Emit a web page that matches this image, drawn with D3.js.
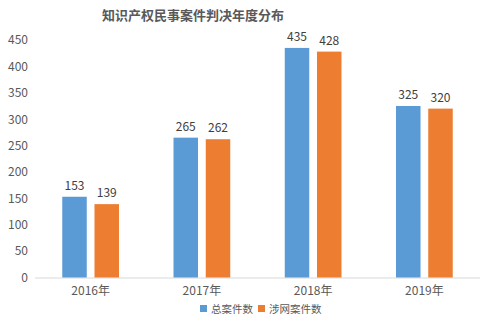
<!DOCTYPE html>
<html><head><meta charset="utf-8">
<script src="https://cdn.jsdelivr.net/npm/d3@7"></script>
<style>body{margin:0;background:#fff}svg{display:block}</style>
</head><body>
<script>
const title = "知识产权民事案件判决年度分布";
const categories = ["2016年","2017年","2018年","2019年"];
const seriesNames = ["总案件数","涉网案件数"];
const totalCases = [153,265,435,325];
const netCases = [139,262,428,320];
const yTicks = [0,50,100,150,200,250,300,350,400,450];
const colors = ["#5B9BD5","#ED7D31"];

const W=499,H=322;
const font = "'Noto Sans CJK SC','Microsoft YaHei',sans-serif";
const svg = d3.select("body").append("svg").attr("width",W).attr("height",H);
const x0 = d3.scaleBand().domain(categories).range([35,480]).paddingInner(0.49).paddingOuter(0.245);
const x1 = d3.scaleBand().domain(seriesNames).range([0,x0.bandwidth()]).paddingInner(0.24);
const y = d3.scaleLinear().domain([0,450]).range([277.5,40]);

svg.append("text").attr("x",193).attr("y",20).attr("text-anchor","middle")
  .attr("font-family",font).attr("font-size",13).attr("font-weight","bold").attr("fill","#595959").text(title);

const yAxis = svg.append("g").attr("transform","translate(28,0)")
  .call(d3.axisLeft(y).tickValues(yTicks).tickSize(0).tickPadding(0));
yAxis.select(".domain").remove();
yAxis.selectAll("text").attr("font-family",font).attr("font-size",12).attr("fill","#595959");

const xAxis = svg.append("g").attr("transform","translate(0,277.5)")
  .call(d3.axisBottom(x0).tickSize(0).tickPadding(9));
xAxis.select(".domain").attr("stroke","#D9D9D9").attr("d","M35,0.5H480");
xAxis.selectAll("text").attr("font-family",font).attr("font-size",12).attr("fill","#595959");

const series = [totalCases, netCases];
categories.forEach((c,i)=>{
  seriesNames.forEach((s,j)=>{
    const v = series[j][i];
    const bx = x0(c)+x1(s);
    svg.append("rect").attr("x",bx).attr("y",y(v)).attr("width",x1.bandwidth())
      .attr("height",y(0)-y(v)).attr("fill",colors[j]);
    svg.append("text").attr("x",bx+x1.bandwidth()/2).attr("y",y(v)-7).attr("text-anchor","middle")
      .attr("font-family",font).attr("font-size",12).attr("fill","#404040").text(v);
  });
});

// legend
const leg = svg.append("g");
const lx = [200,258];
seriesNames.forEach((s,j)=>{
  leg.append("rect").attr("x",lx[j]).attr("y",305).attr("width",7).attr("height",7).attr("fill",colors[j]);
  leg.append("text").attr("x",lx[j]+11).attr("y",313).attr("font-family",font).attr("font-size",10.5)
    .attr("fill","#595959").text(s);
});
</script>
</body></html>
